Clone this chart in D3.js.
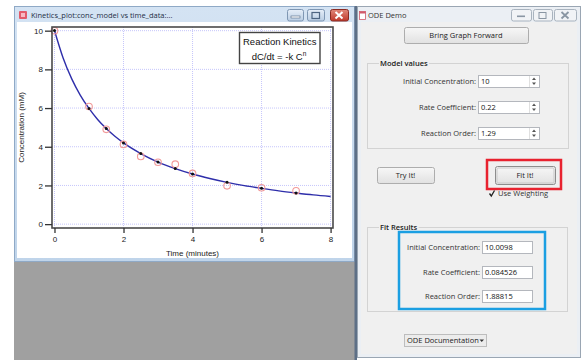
<!DOCTYPE html>
<html><head><meta charset="utf-8">
<script src="https://cdn.jsdelivr.net/npm/d3@7"></script>
<style>body{margin:0;background:#fff}svg{display:block}</style>
</head><body>
<script>
// ---------- data ----------
const timeData  = [0, 1, 1.5, 2, 2.5, 3, 3.5, 4, 5, 6, 7];
const concData  = [10.0, 6.08, 4.9, 4.12, 3.5, 3.2, 3.1, 2.62, 1.98, 1.88, 1.72];
const concModel = [10.01, 5.98, 4.94, 4.20, 3.65, 3.21, 2.87, 2.59, 2.16, 1.85, 1.61];
const fitTime = [0, 0.25, 0.5, 0.75, 1, 1.25, 1.5, 1.75, 2, 2.5, 3, 3.5, 4, 4.5, 5, 5.5, 6, 6.5, 7, 7.5, 8];
const fitConc = [10.01, 8.59, 7.51, 6.66, 5.98, 5.41, 4.94, 4.54, 4.20, 3.65, 3.21, 2.87, 2.59, 2.36, 2.16, 1.99, 1.85, 1.72, 1.61, 1.51, 1.43];
const xTicks = [0, 2, 4, 6, 8];
const yTicks = [0, 2, 4, 6, 8, 10];
const xLabel = "Time (minutes)";
const yLabel = "Concentration (mM)";
const graphTitle = "Kinetics_plot:conc_model vs time_data:...";
const legendLines = ["Reaction Kinetics", "dC/dt = -k C"];
const panelTitle = "ODE Demo";
const paramLabels = ["Initial Concentration:", "Rate Coefficient:", "Reaction Order:"];
const modelValues = ["10", "0.22", "1.29"];
const fitValues = ["10.0098", "0.084526", "1.88815"];

// ---------- setup ----------
const W = 587, H = 360;
const svg = d3.select("body").append("svg").attr("width", W).attr("height", H);
const defs = svg.append("defs");
const g1 = defs.append("linearGradient").attr("id", "btn").attr("x1", 0).attr("x2", 0).attr("y1", 0).attr("y2", 1);
g1.append("stop").attr("offset", "0%").attr("stop-color", "#f7f7f7");
g1.append("stop").attr("offset", "100%").attr("stop-color", "#e1e1e1");
const g2 = defs.append("linearGradient").attr("id", "tbar").attr("x1", 0).attr("x2", 0).attr("y1", 0).attr("y2", 1);
g2.append("stop").attr("offset", "0%").attr("stop-color", "#d4e3f3");
g2.append("stop").attr("offset", "100%").attr("stop-color", "#bfd4ea");
const g3 = defs.append("linearGradient").attr("id", "tbtn").attr("x1", 0).attr("x2", 0).attr("y1", 0).attr("y2", 1);
g3.append("stop").attr("offset", "0%").attr("stop-color", "#e6eef8");
g3.append("stop").attr("offset", "100%").attr("stop-color", "#b9cde3");
const g4 = defs.append("linearGradient").attr("id", "close").attr("x1", 0).attr("x2", 0).attr("y1", 0).attr("y2", 1);
g4.append("stop").attr("offset", "0%").attr("stop-color", "#e0887a");
g4.append("stop").attr("offset", "100%").attr("stop-color", "#c0392b");

const UI = "'Open Sans', 'Noto Sans', sans-serif";
const CH = "'Liberation Sans', Arial, sans-serif";

// MDI grey background
svg.append("rect").attr("x", 14).attr("y", 6).attr("width", 343).attr("height", 354).attr("fill", "#a0a0a0");

// ---------- graph window ----------
const gw = svg.append("g");
gw.append("rect").attr("x", 14.5).attr("y", 6.5).attr("width", 340).attr("height", 255)
  .attr("fill", "url(#tbar)").attr("stroke", "#8fa9c6");
gw.append("rect").attr("x", 17).attr("y", 22).attr("width", 335).attr("height", 236).attr("fill", "#fff");
gw.append("rect").attr("x", 19).attr("y", 11).attr("width", 8).attr("height", 8).attr("fill", "#e25b6a").attr("rx", 1);
gw.append("rect").attr("x", 21).attr("y", 13).attr("width", 4).attr("height", 4).attr("fill", "#f7b9c1");
gw.append("text").attr("x", 31).attr("y", 17.5).attr("font-family", UI).attr("font-size", 7.5)
  .attr("fill", "#1e2f45").text(graphTitle);
// caption buttons
function capBtn(g, x, w, fill, stroke) {
  g.append("rect").attr("x", x + 0.5).attr("y", 9.5).attr("width", w).attr("height", 11.5).attr("rx", 2)
    .attr("fill", fill).attr("stroke", stroke);
}
capBtn(gw, 287, 16, "url(#tbtn)", "#7f97b3");
gw.append("rect").attr("x", 291).attr("y", 16).attr("width", 9).attr("height", 2).attr("fill", "#fff").attr("stroke", "#4d6582").attr("stroke-width", 0.6);
capBtn(gw, 307, 17, "url(#tbtn)", "#7f97b3");
gw.append("rect").attr("x", 312).attr("y", 12.5).attr("width", 7.5).attr("height", 6).attr("fill", "none").attr("stroke", "#4d6582").attr("stroke-width", 1.2);
capBtn(gw, 330, 18, "url(#close)", "#8a2b22");
gw.append("path").attr("d", "M335.5,12 L342.5,18.5 M342.5,12 L335.5,18.5").attr("stroke", "#fff").attr("stroke-width", 2);

// ---------- plot ----------
const x = d3.scaleLinear().domain([-0.072, 8.07]).range([52, 333]);
const y = d3.scaleLinear().domain([-0.2, 10.19]).range([228, 27]);
const plot = svg.append("g");
const gridC = "#c6c6fb";
plot.selectAll(".gx").data(xTicks).join("line").attr("x1", d => x(d)).attr("x2", d => x(d))
  .attr("y1", 27).attr("y2", 228).attr("stroke", gridC).attr("stroke-dasharray", "1,1");
plot.selectAll(".gy").data(yTicks).join("line").attr("y1", d => y(d)).attr("y2", d => y(d))
  .attr("x1", 52).attr("x2", 333).attr("stroke", gridC).attr("stroke-dasharray", "1,1");

const line = d3.line().x((d, i) => x(fitTime[i])).y(d => y(d)).curve(d3.curveMonotoneX);
plot.append("path").attr("d", line(fitConc)).attr("fill", "none").attr("stroke", "#2e2eaa").attr("stroke-width", 1.4);

plot.selectAll(".obs").data(concData).join("circle").attr("cx", (d, i) => x(timeData[i])).attr("cy", d => y(d))
  .attr("r", 3.3).attr("fill", "none").attr("stroke", "#f29a9a").attr("stroke-width", 1.1);
plot.selectAll(".mod").data(concModel).join("circle").attr("cx", (d, i) => x(timeData[i])).attr("cy", d => y(d))
  .attr("r", 1.5).attr("fill", "#111");

// frame
plot.append("rect").attr("x", 52).attr("y", 27).attr("width", 281).attr("height", 201)
  .attr("fill", "none").attr("stroke", "#4a4a4a").attr("stroke-width", 1.6);

const ax = plot.append("g").attr("transform", "translate(0,228)")
  .call(d3.axisBottom(x).tickValues(xTicks).tickSize(5).tickPadding(3).tickFormat(d3.format("d")));
const ay = plot.append("g").attr("transform", "translate(52,0)")
  .call(d3.axisLeft(y).tickValues(yTicks).tickSize(7).tickPadding(2).tickFormat(d3.format("d")));
[ax, ay].forEach(a => {
  a.select(".domain").remove();
  a.selectAll("line").attr("stroke", "#333").attr("stroke-width", 1.3);
  a.selectAll("text").attr("font-family", CH).attr("font-size", 8).attr("fill", "#222");
});
plot.append("text").attr("x", 192.5).attr("y", 256).attr("text-anchor", "middle")
  .attr("font-family", CH).attr("font-size", 8).attr("fill", "#222").text(xLabel);
plot.append("text").attr("transform", "translate(24,127.5) rotate(-90)").attr("text-anchor", "middle")
  .attr("font-family", CH).attr("font-size", 8).attr("fill", "#222").text(yLabel);

// legend box
plot.append("rect").attr("x", 239.5).attr("y", 32.5).attr("width", 80.5).attr("height", 31)
  .attr("fill", "#fff").attr("stroke", "#444").attr("stroke-width", 1.4);
plot.append("text").attr("x", 279.7).attr("y", 44.5).attr("text-anchor", "middle")
  .attr("font-family", CH).attr("font-size", 9.5).attr("fill", "#111").text(legendLines[0]);
const t2 = plot.append("text").attr("x", 279).attr("y", 60).attr("text-anchor", "middle")
  .attr("font-family", CH).attr("font-size", 9.5).attr("fill", "#111");
t2.append("tspan").text(legendLines[1]);
t2.append("tspan").attr("dy", -4.5).attr("font-size", 6.5).text("n");

// separator line
svg.append("rect").attr("x", 354.5).attr("y", 6).attr("width", 2.5).attr("height", 354).attr("fill", "#5d6f86");

// ---------- ODE Demo panel ----------
const p = svg.append("g");
p.append("rect").attr("x", 357.5).attr("y", 6.5).attr("width", 223).attr("height", 351)
  .attr("fill", "#ebeff4").attr("stroke", "#9aa6b3");
p.append("rect").attr("x", 361).attr("y", 22).attr("width", 216).attr("height", 332).attr("fill", "#f0f0f0");
p.append("rect").attr("x", 359.5).attr("y", 11.5).attr("width", 6).attr("height", 8).attr("fill", "#fff").attr("stroke", "#d05a6a").attr("stroke-width", 0.8);
p.append("rect").attr("x", 359.5).attr("y", 11.5).attr("width", 6).attr("height", 2).attr("fill", "#d05a6a");
p.append("text").attr("x", 368).attr("y", 17.5).attr("font-family", UI).attr("font-size", 7.5).attr("fill", "#333").text(panelTitle);
capBtn(p, 511, 20, "#f1f3f6", "#a9b3be");
p.append("rect").attr("x", 517).attr("y", 15.5).attr("width", 8).attr("height", 1.6).attr("fill", "#8a96a3");
capBtn(p, 533, 19, "#f1f3f6", "#a9b3be");
p.append("rect").attr("x", 539).attr("y", 12.5).attr("width", 7).attr("height", 6).attr("fill", "none").attr("stroke", "#8a96a3").attr("stroke-width", 1);
capBtn(p, 554, 22, "#f1f3f6", "#a9b3be");
p.append("path").attr("d", "M561.5,12 L568.5,18.5 M568.5,12 L561.5,18.5").attr("stroke", "#8a96a3").attr("stroke-width", 1.8);

function button(x0, y0, w, h, label, def) {
  p.append("rect").attr("x", x0 + 0.5).attr("y", y0 + 0.5).attr("width", w).attr("height", h).attr("rx", 2)
    .attr("fill", "url(#btn)").attr("stroke", def ? "#8d8d8d" : "#adadad");
  if (def) p.append("rect").attr("x", x0 + 2).attr("y", y0 + 2).attr("width", w - 3).attr("height", h - 3).attr("rx", 1)
    .attr("fill", "none").attr("stroke", "#c9c9c9");
  p.append("text").attr("x", x0 + w / 2).attr("y", y0 + h / 2 + 2.7).attr("text-anchor", "middle")
    .attr("font-family", UI).attr("font-size", 7.5).attr("fill", "#222").text(label);
}
function groupBox(x0, y0, w, h, label) {
  p.append("rect").attr("x", x0 + 0.5).attr("y", y0 + 0.5).attr("width", w).attr("height", h).attr("fill", "none").attr("stroke", "#d3d3d3");
  const t = p.append("text").attr("x", x0 + 13).attr("y", y0 + 3).attr("font-family", UI).attr("font-size", 7.5)
    .attr("font-weight", 600).attr("fill", "#222").text(label);
  const bb = t.node().getBBox();
  p.insert("rect", "text:last-of-type").attr("x", bb.x - 1).attr("y", y0 - 1).attr("width", bb.width + 2).attr("height", 3).attr("fill", "#f0f0f0");
}
function field(cy, label, value, xr, w, spin) {
  p.append("text").attr("x", xr - 2).attr("y", cy + 2.7).attr("text-anchor", "end")
    .attr("font-family", UI).attr("font-size", 7.5).attr("fill", "#333").text(label);
  p.append("rect").attr("x", xr + 0.5).attr("y", cy - 5.5).attr("width", w).attr("height", 12)
    .attr("fill", "#fff").attr("stroke", "#b4b7bd");
  p.append("text").attr("x", xr + 3).attr("y", cy + 2.7).attr("font-family", UI).attr("font-size", 7.5)
    .attr("fill", "#111").text(value);
  if (spin) {
    const sx = xr + w - 5;
    p.append("path").attr("d", `M${sx - 2},${cy - 1} L${sx + 2},${cy - 1} L${sx},${cy - 3.5} Z M${sx - 2},${cy + 1.5} L${sx + 2},${cy + 1.5} L${sx},${cy + 4} Z`)
      .attr("fill", "#555");
    p.append("line").attr("x1", sx - 4.5).attr("x2", sx - 4.5).attr("y1", cy - 5).attr("y2", cy + 6).attr("stroke", "#e0e0e0");
  }
}

button(404, 27, 124, 16, "Bring Graph Forward");
groupBox(367, 63, 201, 85, "Model values");
const modelY = [81, 107, 133];
paramLabels.forEach((l, i) => field(modelY[i], l, modelValues[i], 478, 61, true));

button(377, 167, 57, 16, "Try It!");
button(495, 166, 60, 18, "Fit It!", true);
p.append("rect").attr("x", 487).attr("y", 160).attr("width", 74).attr("height", 29).attr("fill", "none")
  .attr("stroke", "#e8222f").attr("stroke-width", 2.5);
p.append("path").attr("d", "M489.5,193.5 L491.3,196 L494.5,190.5").attr("fill", "none").attr("stroke", "#222").attr("stroke-width", 1.3);
p.append("text").attr("x", 498).attr("y", 196).attr("font-family", UI).attr("font-size", 7.5).attr("fill", "#333").text("Use Weighting");

groupBox(367, 227, 200, 84, "Fit Results");
const fitY = [247, 272, 296];
paramLabels.forEach((l, i) => field(fitY[i], l, fitValues[i], 482, 50, false));
p.append("rect").attr("x", 399).attr("y", 232).attr("width", 146).attr("height", 77).attr("fill", "none")
  .attr("stroke", "#1b9fe2").attr("stroke-width", 2.5);

p.append("rect").attr("x", 404.5).attr("y", 334.5).attr("width", 82).attr("height", 12).attr("fill", "#ececec").attr("stroke", "#bdbdbd");
p.append("text").attr("x", 407).attr("y", 343.3).attr("font-family", UI).attr("font-size", 7.5).attr("fill", "#222").text("ODE Documentation");
p.append("path").attr("d", "M479.5,339.5 L484,339.5 L481.75,342 Z").attr("fill", "#333");
</script>
</body></html>
